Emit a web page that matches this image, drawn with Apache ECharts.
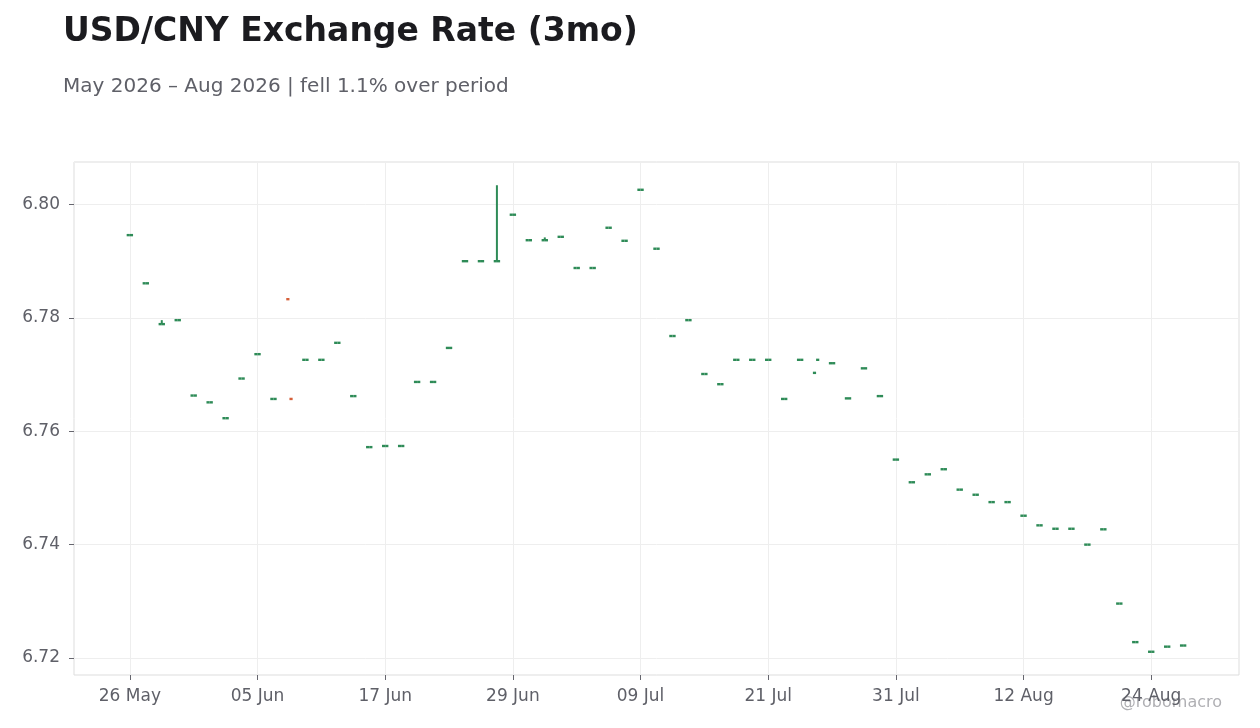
<!DOCTYPE html>
<html>
<head>
<meta charset="utf-8">
<title>USD/CNY Exchange Rate (3mo)</title>
<script src="https://cdn.jsdelivr.net/npm/echarts@6/dist/echarts.min.js"></script>
<style>
  html, body { margin: 0; padding: 0; background: #fff; }
  #chart { width: 1260px; height: 728px; }
</style>
</head>
<body>
<div id="chart"></div>
<script>
// trading days shown on the axis (first 3 and last 3 have no data)
var dates = [
  '21 May', '22 May', '25 May', '26 May', '27 May', '28 May', '29 May',
  '01 Jun', '02 Jun', '03 Jun', '04 Jun', '05 Jun',
  '08 Jun', '09 Jun', '10 Jun', '11 Jun', '12 Jun',
  '15 Jun', '16 Jun', '17 Jun', '18 Jun', '19 Jun',
  '22 Jun', '23 Jun', '24 Jun', '25 Jun', '26 Jun',
  '29 Jun', '30 Jun', '01 Jul', '02 Jul', '03 Jul',
  '06 Jul', '07 Jul', '08 Jul', '09 Jul', '10 Jul',
  '13 Jul', '14 Jul', '15 Jul', '16 Jul', '17 Jul',
  '20 Jul', '21 Jul', '22 Jul', '23 Jul', '24 Jul',
  '27 Jul', '28 Jul', '29 Jul', '30 Jul', '31 Jul',
  '03 Aug', '04 Aug', '05 Aug', '06 Aug', '07 Aug',
  '10 Aug', '11 Aug', '12 Aug', '13 Aug', '14 Aug',
  '17 Aug', '18 Aug', '19 Aug', '20 Aug', '21 Aug',
  '24 Aug', '25 Aug', '26 Aug', '27 Aug', '28 Aug', '31 Aug'
];

var openVals = [
  null, null, null, 6.7946, 6.7861, 6.7789, 6.7796,
  6.7663, 6.7651, 6.7623, 6.7693, 6.7736,
  6.7657, 6.7833, 6.7726, 6.7726, 6.7756,
  6.7662, 6.7572, 6.7574, 6.7574, 6.7687,
  6.7687, 6.7747, 6.7900, 6.7900, 6.7900,
  6.7982, 6.7937, 6.7937, 6.7943, 6.7888,
  6.7888, 6.7959, 6.7936, 6.8026, 6.7922,
  6.7768, 6.7796, 6.7701, 6.7683, 6.7726,
  6.7726, 6.7726, 6.7657, 6.7726, 6.7703,
  6.7720, 6.7658, 6.7711, 6.7662, 6.7550,
  6.7510, 6.7524, 6.7533, 6.7497, 6.7488,
  6.7475, 6.7475, 6.7451, 6.7434, 6.7428,
  6.7428, 6.7400, 6.7427, 6.7296, 6.7228,
  6.7211, 6.7220, 6.7222, null, null, null
];

var closeVals = [
  null, null, null, 6.7946, 6.7861, 6.7789, 6.7796,
  6.7663, 6.7651, 6.7623, 6.7693, 6.7736,
  6.7657, 6.7657, 6.7726, 6.7726, 6.7756,
  6.7662, 6.7572, 6.7574, 6.7574, 6.7687,
  6.7687, 6.7747, 6.7900, 6.7900, 6.7900,
  6.7982, 6.7937, 6.7937, 6.7943, 6.7888,
  6.7888, 6.7959, 6.7936, 6.8026, 6.7922,
  6.7768, 6.7796, 6.7701, 6.7683, 6.7726,
  6.7726, 6.7726, 6.7657, 6.7726, 6.7726,
  6.7720, 6.7658, 6.7711, 6.7662, 6.7550,
  6.7510, 6.7524, 6.7533, 6.7497, 6.7488,
  6.7475, 6.7475, 6.7451, 6.7434, 6.7428,
  6.7428, 6.7400, 6.7427, 6.7296, 6.7228,
  6.7211, 6.7220, 6.7222, null, null, null
];

// high/low as drawn: only three days show a wick
var lowVals = [
  null, null, null, 6.7946, 6.7861, 6.7789, 6.7796,
  6.7663, 6.7651, 6.7623, 6.7693, 6.7736,
  6.7657, 6.7657, 6.7726, 6.7726, 6.7756,
  6.7662, 6.7572, 6.7574, 6.7574, 6.7687,
  6.7687, 6.7747, 6.7900, 6.7900, 6.7900,
  6.7982, 6.7937, 6.7937, 6.7943, 6.7888,
  6.7888, 6.7959, 6.7936, 6.8026, 6.7922,
  6.7768, 6.7796, 6.7701, 6.7683, 6.7726,
  6.7726, 6.7726, 6.7657, 6.7726, 6.7726,
  6.7720, 6.7658, 6.7711, 6.7662, 6.7550,
  6.7510, 6.7524, 6.7533, 6.7497, 6.7488,
  6.7475, 6.7475, 6.7451, 6.7434, 6.7428,
  6.7428, 6.7400, 6.7427, 6.7296, 6.7228,
  6.7211, 6.7220, 6.7222, null, null, null
];

var highVals = [
  null, null, null, 6.7946, 6.7861, 6.7796, 6.7796,
  6.7663, 6.7651, 6.7623, 6.7693, 6.7736,
  6.7657, 6.7657, 6.7726, 6.7726, 6.7756,
  6.7662, 6.7572, 6.7574, 6.7574, 6.7687,
  6.7687, 6.7747, 6.7900, 6.7900, 6.8034,
  6.7982, 6.7937, 6.7942, 6.7943, 6.7888,
  6.7888, 6.7959, 6.7936, 6.8026, 6.7922,
  6.7768, 6.7796, 6.7701, 6.7683, 6.7726,
  6.7726, 6.7726, 6.7657, 6.7726, 6.7726,
  6.7720, 6.7658, 6.7711, 6.7662, 6.7550,
  6.7510, 6.7524, 6.7533, 6.7497, 6.7488,
  6.7475, 6.7475, 6.7451, 6.7434, 6.7428,
  6.7428, 6.7400, 6.7427, 6.7296, 6.7228,
  6.7211, 6.7220, 6.7222, null, null, null
];

var upColor = '#2e8b57';
var downColor = '#d6603a';
var firstLabel = 3;   // 26 May
var labelStep = 8;

var ohlc = [];
for (var i = 0; i < dates.length; i++) {
  if (closeVals[i] == null) continue;
  ohlc.push([i, openVals[i], closeVals[i], lowVals[i], highVals[i]]);
}

function showIdx(idx) {
  return idx >= firstLabel && (idx - firstLabel) % labelStep === 0;
}

// open tick on the left half, close tick on the right half, wick high-low
function renderBar(params, api) {
  var idx = api.value(0);
  var o = api.coord([idx, api.value(1)]);
  var c = api.coord([idx, api.value(2)]);
  var lo = api.coord([idx, api.value(3)]);
  var hi = api.coord([idx, api.value(4)]);
  var half = api.size([1, 0])[0] * 0.2;
  var h = 2.4;
  var color = api.value(2) >= api.value(1) ? upColor : downColor;
  var children = [
    { type: 'rect', shape: { x: o[0] - half, y: o[1] - h / 2, width: half, height: h },
      style: { fill: color } },
    { type: 'rect', shape: { x: c[0], y: c[1] - h / 2, width: half, height: h },
      style: { fill: color } }
  ];
  if (hi[1] < lo[1] - 0.5) {
    children.push({ type: 'rect', shape: { x: o[0] - 1, y: hi[1], width: 2, height: lo[1] - hi[1] },
      style: { fill: color } });
  }
  return { type: 'group', children: children };
}

var chart = echarts.init(document.getElementById('chart'));
chart.setOption({
  animation: false,
  backgroundColor: '#ffffff',
  title: [
    {
      text: 'USD/CNY Exchange Rate (3mo)',
      left: 63, top: 16, padding: 0,
      textStyle: { fontFamily: 'DejaVu Sans', fontSize: 33, fontWeight: 'bold', color: '#1b1b1f' }
    },
    {
      text: 'May 2026 \u2013 Aug 2026 | fell 1.1% over period',
      left: 63, top: 77, padding: 0,
      textStyle: { fontFamily: 'DejaVu Sans', fontSize: 20, fontWeight: 'normal', color: '#5f6068' }
    }
  ],
  graphic: [{
    type: 'text', right: 38, top: 695,
    style: { text: '@robomacro', fontFamily: 'DejaVu Sans', fontSize: 16, fill: '#b0b0b4' }
  }],
  grid: {
    left: 74, right: 21, top: 162, bottom: 53,
    show: true, borderColor: '#dddddd', borderWidth: 1, backgroundColor: 'transparent'
  },
  xAxis: {
    type: 'category',
    data: dates,
    boundaryGap: true,
    axisLine: { show: false },
    axisTick: { show: true, alignWithLabel: true, interval: function (idx) { return showIdx(idx); },
      length: 5, lineStyle: { color: '#66666e' } },
    axisLabel: { interval: function (idx) { return showIdx(idx); }, margin: 13,
      fontFamily: 'DejaVu Sans', fontSize: 17, color: '#5f6068' },
    splitLine: { show: true, alignWithLabel: true, interval: function (idx) { return showIdx(idx); },
      lineStyle: { color: '#eeeeee' } }
  },
  yAxis: {
    type: 'value',
    min: 6.717, max: 6.8075,
    axisLine: { show: false },
    axisTick: { show: true, length: 5, lineStyle: { color: '#66666e' } },
    axisLabel: { margin: 14, fontFamily: 'DejaVu Sans', fontSize: 17, color: '#5f6068',
      showMinLabel: false, showMaxLabel: false, padding: [3, 0, 0, 0],
      formatter: function (v) { return v.toFixed(2); } },
    splitLine: { show: true, lineStyle: { color: '#eeeeee' } }
  },
  series: [{
    type: 'custom',
    name: 'USD/CNY',
    renderItem: renderBar,
    encode: { x: 0, y: [1, 2, 3, 4] },
    clip: true,
    data: ohlc
  }]
});
</script>
</body>
</html>
